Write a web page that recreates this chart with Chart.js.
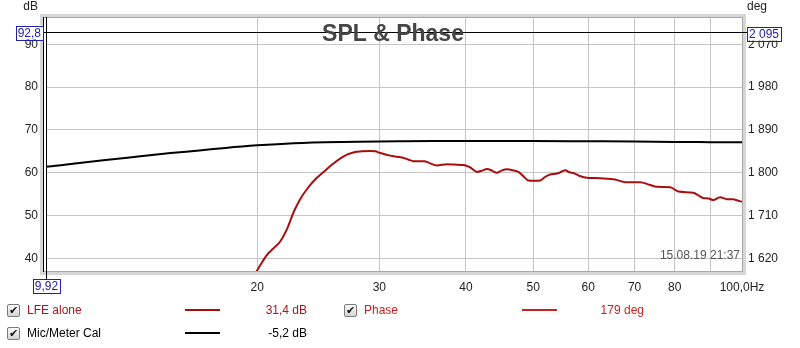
<!DOCTYPE html>
<html>
<head>
<meta charset="utf-8">
<script src="https://cdn.jsdelivr.net/npm/chart.js@4.4.0/dist/chart.umd.min.js"></script>
<style>
html, body { margin: 0; padding: 0; background: #fff; }
#wrap { position: relative; width: 800px; height: 348px; font-family: "Liberation Sans", Arial, sans-serif; font-size: 12px; }
#splChart { position: absolute; left: 0; top: 0; }
.leg { position: absolute; white-space: nowrap; line-height: 14px; }
.chk { position: absolute; width: 11px; height: 11px; border: 1px solid #7a7a7a; border-radius: 2px;
       background: linear-gradient(#fbfbfb, #d4d4d4); font: 11px/11px "DejaVu Sans", sans-serif; text-align: center; color: #111; }
.swatch { position: absolute; width: 35px; height: 2px; }
</style>
</head>
<body>
<div id="wrap">
  <canvas id="splChart" width="800" height="348"></canvas>
</div>
<script>
// Mic/Meter Cal (black) - frequency in Hz, level in dB
const micFreq = [9.92, 10.5, 11, 12, 13, 14, 15, 16.5, 18, 20, 22, 25, 28, 32, 36, 40, 45, 50, 60, 70, 80, 90, 100];
const micDb   = [61.4, 61.8, 62.2, 62.9, 63.5, 64.1, 64.6, 65.2, 65.8, 66.4, 66.8, 67.1, 67.25, 67.35, 67.4, 67.4, 67.4, 67.4, 67.35, 67.3, 67.2, 67.15, 67.1];

// LFE alone (red)
const lfeFreq = [19.6, 20.0, 20.4, 20.7, 21.1, 21.6, 22.1, 22.6, 23.1, 23.6, 24.2, 24.9, 25.6, 26.4, 27.0, 27.6, 28.3, 29.1, 29.6, 30.1,
                 31.1, 32.2, 33.0, 33.6, 34.8, 35.5, 36.3, 37.6, 38.5, 39.7, 40.5, 41.5, 42.2, 42.9, 43.6, 44.3, 45.0, 45.8, 46.7, 47.6,
                 48.4, 49.2, 50.2, 51.2, 52.0, 52.9, 54.1, 55.0, 55.6, 56.4, 57.2, 58.2, 59.4, 62.4, 65.6, 67.0, 67.8, 71.3, 73.5, 75.4,
                 78.8, 81.0, 85.1, 86.5, 87.9, 89.5, 90.9, 93.0, 95.1, 97.1, 98.5, 100];
const lfeDb   = [35.0, 37.2, 39.5, 41.0, 42.3, 44.0, 47.0, 51.0, 54.0, 56.2, 58.3, 60.1, 61.8, 63.4, 64.3, 64.8, 65.0, 65.1, 65.0, 64.6,
                 64.0, 63.6, 63.1, 62.7, 62.7, 62.2, 61.7, 62.0, 61.9, 61.8, 61.3, 60.2, 60.5, 60.9, 60.5, 60.0, 60.5, 60.8, 60.6, 60.2,
                 59.2, 58.2, 58.1, 58.2, 59.0, 59.6, 59.8, 60.3, 60.6, 60.1, 59.9, 59.3, 58.9, 58.7, 58.4, 58.0, 57.8, 57.8, 57.2, 56.7,
                 56.6, 55.6, 55.3, 54.7, 54.1, 54.0, 53.6, 54.3, 53.8, 53.8, 53.5, 53.2];

// axes
const xTicks   = [20, 30, 40, 50, 60, 70, 80, 90, 100];
const dbTicks  = [40, 50, 60, 70, 80, 90];
const degTicks = [1620, 1710, 1800, 1890, 1980, 2070];

// cursor readout
const cursorFreq = 9.92;
const cursorDb = 92.8;
const cursorDeg = 2095;

// legend
const legendNames  = ['LFE alone', 'Mic/Meter Cal', 'Phase'];
const legendValues = ['31,4 dB', '-5,2 dB', '179 deg'];
const legendColors = ['#a50f0f', '#000000', '#cc1f1f'];

const toPoints = (xs, ys) => xs.map((x, i) => ({ x: x, y: ys[i] }));
const spaced = v => String(v).replace(/\B(?=(\d{3})+(?!\d))/g, ' ');

function readoutBox(ctx, text, x, y, align) {
  ctx.font = '12px "Liberation Sans", Arial, sans-serif';
  const w = ctx.measureText(text).width + 4;
  const h = 14;
  let left = x;
  if (align === 'right') left = x - w;
  if (align === 'center') left = x - w / 2;
  ctx.fillStyle = '#fff';
  ctx.fillRect(left, y - h / 2, w, h);
  ctx.strokeStyle = '#2222a8';
  ctx.lineWidth = 1;
  ctx.strokeRect(Math.round(left) + 0.5, Math.round(y - h / 2) + 0.5, Math.round(w), h);
  ctx.fillStyle = '#2222a8';
  ctx.textAlign = 'left';
  ctx.textBaseline = 'middle';
  ctx.fillText(text, left + 2, y + 1);
}

const rewDecor = {
  id: 'rewDecor',
  afterDraw(chart) {
    const { ctx, chartArea: a, scales } = chart;
    ctx.save();
    // frame with soft shadow
    ctx.strokeStyle = '#d6d6d6';
    ctx.lineWidth = 3;
    ctx.strokeRect(a.left - 4.5, a.top - 1.5, a.right - a.left + 7, a.bottom - a.top + 3);
    ctx.strokeStyle = '#a8a8a8';
    ctx.lineWidth = 1;
    ctx.strokeRect(a.left - 2.5, a.top + 0.5, a.right - a.left + 3, a.bottom - a.top - 1);
    ctx.strokeStyle = '#000';
    ctx.beginPath();
    ctx.moveTo(a.left - 2.5, a.top);
    ctx.lineTo(a.left - 2.5, a.bottom);
    ctx.stroke();

    // cursor lines
    const cy = Math.round(scales.y.getPixelForValue(cursorDb)) + 0.5;
    const cx = Math.round(scales.x.getPixelForValue(cursorFreq)) + 0.5;
    ctx.beginPath();
    ctx.moveTo(a.left - 3, cy);
    ctx.lineTo(a.right + 5, cy);
    ctx.moveTo(cx, a.top);
    ctx.lineTo(cx, a.bottom + 7);
    ctx.stroke();

    // title
    ctx.fillStyle = '#454545';
    ctx.font = 'bold 23px "Liberation Sans", Arial, sans-serif';
    ctx.textAlign = 'center';
    ctx.textBaseline = 'middle';
    ctx.fillText('SPL & Phase', (a.left + a.right) / 2 - 1, cy + 2);

    // timestamp
    ctx.fillStyle = '#555';
    ctx.font = '12px "Liberation Sans", Arial, sans-serif';
    ctx.textAlign = 'right';
    ctx.fillText('15.08.19 21:37', a.right - 2, a.bottom - 16);

    // axis units
    ctx.fillStyle = '#222';
    ctx.textAlign = 'right';
    ctx.fillText('dB', 38, 7);
    ctx.textAlign = 'left';
    ctx.fillText('deg', 747, 7);

    // readout boxes
    readoutBox(ctx, String(cursorDb).replace('.', ','), a.left - 3, cy, 'right');
    readoutBox(ctx, spaced(cursorDeg), a.right + 5, cy + 1, 'left');
    readoutBox(ctx, String(cursorFreq).replace('.', ','), cx, a.bottom + 14, 'center');
    ctx.restore();
  }
};

const tickFont = { family: '"Liberation Sans", Arial, sans-serif', size: 12 };

new Chart(document.getElementById('splChart'), {
  type: 'line',
  data: {
    datasets: [
      {
        label: legendNames[0],
        data: toPoints(lfeFreq, lfeDb),
        borderColor: legendColors[0],
        borderWidth: 2,
        pointRadius: 0,
        cubicInterpolationMode: 'monotone',
        yAxisID: 'y'
      },
      {
        label: legendNames[1],
        data: toPoints(micFreq, micDb),
        borderColor: legendColors[1],
        borderWidth: 2,
        pointRadius: 0,
        cubicInterpolationMode: 'monotone',
        yAxisID: 'y'
      }
    ]
  },
  options: {
    responsive: false,
    animation: false,
    events: [],
    layout: { padding: { top: 17, left: 0, right: 0, bottom: 0 } },
    plugins: { legend: { display: false }, tooltip: { enabled: false } },
    scales: {
      x: {
        type: 'logarithmic',
        min: cursorFreq,
        max: 100,
        afterBuildTicks: s => { s.ticks = xTicks.map(v => ({ value: v })); },
        afterFit: s => { s.height = 76; },
        grid: { color: '#c6c6c6', drawTicks: false },
        border: { display: false },
        ticks: {
          autoSkip: false,
          maxRotation: 0,
          padding: 8,
          color: '#222',
          font: tickFont,
          callback: v => v === 100 ? '100,0Hz' : (v === 90 ? '' : String(v))
        }
      },
      y: {
        position: 'left',
        min: 36.8,
        max: 96.4,
        afterBuildTicks: s => { s.ticks = dbTicks.map(v => ({ value: v })); },
        afterFit: s => { s.width = 46; },
        grid: { color: '#c6c6c6', drawTicks: false },
        border: { display: false },
        ticks: { padding: 8, color: '#222', font: tickFont }
      },
      y2: {
        position: 'right',
        min: 1591.2,
        max: 2127.6,
        afterBuildTicks: s => { s.ticks = degTicks.map(v => ({ value: v })); },
        afterFit: s => { s.width = 58; },
        grid: { display: false, drawTicks: false },
        border: { display: false },
        ticks: { padding: 6, color: '#222', font: tickFont, callback: v => spaced(v) }
      }
    }
  },
  plugins: [rewDecor]
});

// legend below the plot, REW style
const wrap = document.getElementById('wrap');
const legendSlots = [
  { col: 0, top: 303 },
  { col: 0, top: 326 },
  { col: 1, top: 303 }
];
const colX = [
  { chk: 7, name: 27, line: 185, valRight: 307 },
  { chk: 344, name: 364, line: 522, valRight: 644 }
];
legendNames.forEach((name, i) => {
  const s = legendSlots[i];
  const c = colX[s.col];
  const textColor = i === 0 ? '#a31818' : legendColors[i];

  const chk = document.createElement('div');
  chk.className = 'chk';
  chk.textContent = '\u2714';
  chk.style.left = c.chk + 'px';
  chk.style.top = (s.top + 1) + 'px';
  wrap.appendChild(chk);

  const label = document.createElement('div');
  label.className = 'leg';
  label.textContent = name;
  label.style.left = c.name + 'px';
  label.style.top = s.top + 'px';
  label.style.color = textColor;
  wrap.appendChild(label);

  const sw = document.createElement('div');
  sw.className = 'swatch';
  sw.style.left = c.line + 'px';
  sw.style.top = (s.top + 6) + 'px';
  sw.style.background = legendColors[i];
  wrap.appendChild(sw);

  const val = document.createElement('div');
  val.className = 'leg';
  val.textContent = legendValues[i];
  val.style.right = (800 - c.valRight) + 'px';
  val.style.top = s.top + 'px';
  val.style.color = textColor;
  wrap.appendChild(val);
});
</script>
</body>
</html>
